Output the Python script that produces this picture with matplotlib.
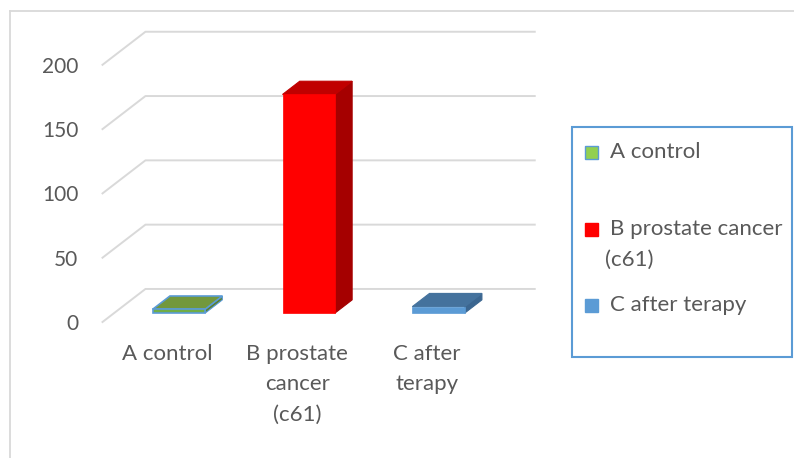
import matplotlib
matplotlib.use("Agg")
import matplotlib.pyplot as plt
from matplotlib.patches import Polygon, Rectangle

# data
categories = ["A control", "B prostate\ncancer\n(c61)", "C after\nterapy"]
legend_labels = ["A control", "B prostate cancer\n(c61)", "C after terapy"]
values = [3, 170, 5]
y_ticks = [0, 50, 100, 150, 200]

# colours: front, top, side, edge
front_colors = ["#70AD47", "#FF0000", "#5B9BD5"]
top_colors = ["#72983C", "#C00000", "#44729D"]
side_colors = ["#5A7F30", "#A50000", "#3B6690"]
edge_colors = ["#5B9BD5", "#FF0000", "#5B9BD5"]
legend_colors = ["#92D050", "#FF0000", "#5B9BD5"]
legend_edges = ["#5B9BD5", "#FF0000", "#5B9BD5"]

W, H = 794, 458
FONT = "Lato"
TEXT = "#595959"
GRID = "#D9D9D9"

# fake 3-D geometry (front plane is the axes)
DEPTH_X = 0.331   # category units from floor front to back wall
DEPTH_Y = 25.7    # value units from floor front to back wall
BAR_FRONT = 0.27
BAR_BACK = 0.67
HALF_W = 0.202


def px(x, y):
    return (x / W, 1 - y / H)


fig = plt.figure(figsize=(W / 100, H / 100), dpi=100)
fig.patch.set_facecolor("white")

# outer chart frame (only top and left visible)
fig.add_artist(plt.Line2D([10 / W, 1], [1 - 11 / H, 1 - 11 / H], color=GRID, lw=1.3))
fig.add_artist(plt.Line2D([10 / W, 10 / W], [0, 1 - 11 / H], color=GRID, lw=1.3))

left, bottom = px(102.5, 322)
ax = fig.add_axes([left, bottom, 389.3 / W, 257.2 / H])
ax.set_xlim(-0.5, 2.5)
ax.set_ylim(0, 200)
for s in ax.spines.values():
    s.set_visible(False)
ax.set_facecolor("none")
ax.set_xticks([])
ax.set_yticks(y_ticks)
ax.set_yticklabels([str(t) for t in y_ticks], fontsize=15, color=TEXT, family=FONT)
ax.tick_params(axis="y", length=0, pad=17.5)

# gridlines: floor diagonal + back wall
x0, x1 = ax.get_xlim()
for t in y_ticks:
    ax.plot([x0, x0 + DEPTH_X, x1 + DEPTH_X], [t, t + DEPTH_Y, t + DEPTH_Y],
            color=GRID, lw=1.4, clip_on=False, zorder=1)

# bars
for i, v in enumerate(values):
    fx, fy = BAR_FRONT * DEPTH_X, BAR_FRONT * DEPTH_Y
    bx, by = BAR_BACK * DEPTH_X, BAR_BACK * DEPTH_Y
    xl, xr = i - HALF_W, i + HALF_W
    side = Polygon([(xr + fx, fy), (xr + bx, by), (xr + bx, v + by), (xr + fx, v + fy)],
                   closed=True, facecolor=side_colors[i], edgecolor=edge_colors[i] if i == 0 else side_colors[i],
                   lw=0.8, zorder=3, clip_on=False)
    top = Polygon([(xl + fx, v + fy), (xr + fx, v + fy), (xr + bx, v + by), (xl + bx, v + by)],
                  closed=True, facecolor=top_colors[i], edgecolor=edge_colors[i] if i == 0 else top_colors[i],
                  lw=1.2 if i == 0 else 0.8, zorder=3, clip_on=False)
    ax.add_patch(side)
    ax.add_patch(top)
    ax.bar(i + fx, v, width=2 * HALF_W, bottom=fy, color=front_colors[i],
           edgecolor=edge_colors[i], lw=1.2 if i == 0 else 0.5, zorder=4, clip_on=False)

# category labels under the floor
for i, lab in enumerate(categories):
    ax.text(i, -17, lab, ha="center", va="top", fontsize=16, color=TEXT,
            family=FONT, linespacing=1.65)

# legend box
lx0, ly0, lx1, ly1 = 572, 127, 792, 357
fig.add_artist(Rectangle(px(lx0, ly1), (lx1 - lx0) / W, (ly1 - ly0) / H,
                         fill=False, edgecolor="#5B9BD5", lw=1.5, transform=fig.transFigure))
entry_y = [152, 229, 305]
for lab, col, ec, yy in zip(legend_labels, legend_colors, legend_edges, entry_y):
    fig.add_artist(Rectangle(px(585, yy + 6.5), 13 / W, 13 / H, facecolor=col,
                             edgecolor=ec, lw=1, transform=fig.transFigure))
    first, *rest = lab.split("\n")
    fig.text(*px(610, yy), first, ha="left", va="center", fontsize=16, color=TEXT, family=FONT)
    for k, line in enumerate(rest):
        fig.text(*px(605, yy + 31 * (k + 1)), line, ha="left", va="center",
                 fontsize=16, color=TEXT, family=FONT)

fig.savefig("out.png", dpi=100, facecolor="white")
